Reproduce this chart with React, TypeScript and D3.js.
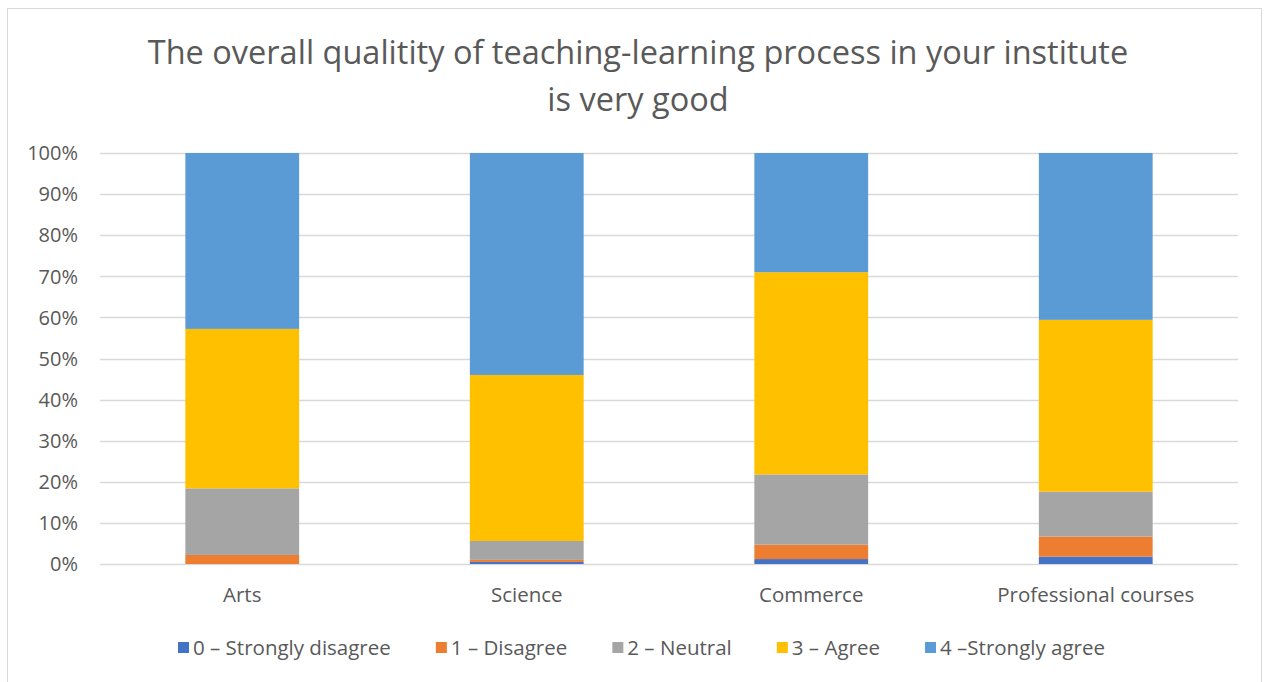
import React, { useEffect, useRef } from "react";
import * as d3 from "d3";

const categories = ["Arts", "Science", "Commerce", "Professional courses"];
const seriesNames = [
  "0 – Strongly disagree",
  "1 – Disagree",
  "2 – Neutral",
  "3 – Agree",
  "4 –Strongly agree",
];
const stronglyDisagree = [0, 0.5, 1.2, 1.8];
const disagree = [2.2, 0.5, 3.5, 4.9];
const neutral = [16.2, 4.6, 17.1, 10.9];
const agree = [38.8, 40.4, 49.2, 41.8];
const stronglyAgree = [42.8, 54.0, 29.0, 40.6];
const seriesColors = ["#4472C4", "#ED7D31", "#A5A5A5", "#FFC000", "#5B9BD5"];
const yTicks = [0, 10, 20, 30, 40, 50, 60, 70, 80, 90, 100];
const titleLines = [
  "The overall qualitity of teaching-learning process in your institute",
  "is very good",
];

const W = 1268;
const H = 682;
const FONT = "'Open Sans', sans-serif";
const TXT = "#595959";

export default function App() {
  const ref = useRef<SVGSVGElement>(null);

  useEffect(() => {
    const svg = d3.select(ref.current);
    svg.selectAll("*").remove();

    const plot = { left: 100, right: 1238, top: 153, bottom: 564 };

    svg
      .append("rect")
      .attr("x", 7.5)
      .attr("y", 8.5)
      .attr("width", 1254)
      .attr("height", 720)
      .attr("fill", "#fff")
      .attr("stroke", "#D9D9D9");

    // title
    svg
      .append("g")
      .selectAll("text")
      .data(titleLines)
      .join("text")
      .attr("x", 638)
      .attr("y", (_, i) => 64 + i * 47)
      .attr("text-anchor", "middle")
      .attr("font-family", FONT)
      .attr("font-size", 32.5)
      .attr("fill", TXT)
      .text((d) => d);

    const x = d3
      .scaleBand<string>()
      .domain(categories)
      .range([plot.left, plot.right])
      .paddingInner(0.6)
      .paddingOuter(0.3);
    const y = d3.scaleLinear().domain([0, 100]).range([plot.bottom, plot.top]);

    // grid
    svg
      .append("g")
      .selectAll("line")
      .data(yTicks)
      .join("line")
      .attr("x1", plot.left)
      .attr("x2", plot.right)
      .attr("y1", (d) => Math.round(y(d)) + 0.5)
      .attr("y2", (d) => Math.round(y(d)) + 0.5)
      .attr("stroke", "#D9D9D9")
      .attr("stroke-width", 1.5);

    // y labels
    svg
      .append("g")
      .selectAll("text")
      .data(yTicks)
      .join("text")
      .attr("x", 78)
      .attr("y", (d) => y(d))
      .attr("dy", "0.36em")
      .attr("text-anchor", "end")
      .attr("font-family", FONT)
      .attr("font-size", 20)
      .attr("fill", TXT)
      .text((d) => d + "%");

    const rows = categories.map((c, i) => ({
      cat: c,
      s0: stronglyDisagree[i],
      s1: disagree[i],
      s2: neutral[i],
      s3: agree[i],
      s4: stronglyAgree[i],
    }));
    const keys = ["s0", "s1", "s2", "s3", "s4"];
    const stacked = d3.stack<any>().keys(keys).offset(d3.stackOffsetExpand)(rows);

    svg
      .append("g")
      .selectAll("g")
      .data(stacked)
      .join("g")
      .attr("fill", (_, i) => seriesColors[i])
      .selectAll("rect")
      .data((d) => d)
      .join("rect")
      .attr("x", (d: any) => x(d.data.cat)!)
      .attr("width", x.bandwidth())
      .attr("y", (d: any) => y(d[1] * 100))
      .attr("height", (d: any) => Math.max(0, y(d[0] * 100) - y(d[1] * 100)));

    // x labels
    svg
      .append("g")
      .selectAll("text")
      .data(categories)
      .join("text")
      .attr("x", (d) => x(d)! + x.bandwidth() / 2)
      .attr("y", 602)
      .attr("text-anchor", "middle")
      .attr("font-family", FONT)
      .attr("font-size", 20.5)
      .attr("fill", TXT)
      .text((d) => d);

    // legend
    const lg = svg.append("g");
    const items = lg.selectAll("g").data(seriesNames).join("g");
    const sq = 11;
    const tx = 15;
    items
      .append("rect")
      .attr("width", sq)
      .attr("height", sq)
      .attr("y", 642)
      .attr("fill", (_, i) => seriesColors[i]);
    const texts = items
      .append("text")
      .attr("x", tx)
      .attr("y", 655)
      .attr("font-family", FONT)
      .attr("font-size", 20.5)
      .attr("fill", TXT)
      .text((d) => d);
    const widths: number[] = [];
    texts.each(function () {
      widths.push((this as SVGTextElement).getComputedTextLength());
    });
    const start = 178;
    const end = 1105;
    const content = d3.sum(widths.map((w) => w + tx));
    const gap = (end - start - content) / (widths.length - 1);
    let cx = start;
    items.attr("transform", (_, i) => {
      const t = `translate(${cx},0)`;
      cx += widths[i] + tx + gap;
      return t;
    });
  }, []);

  return (
    <svg
      ref={ref}
      width={W}
      height={H}
      style={{ position: "absolute", left: 0, top: 0, background: "#fff" }}
    />
  );
}
